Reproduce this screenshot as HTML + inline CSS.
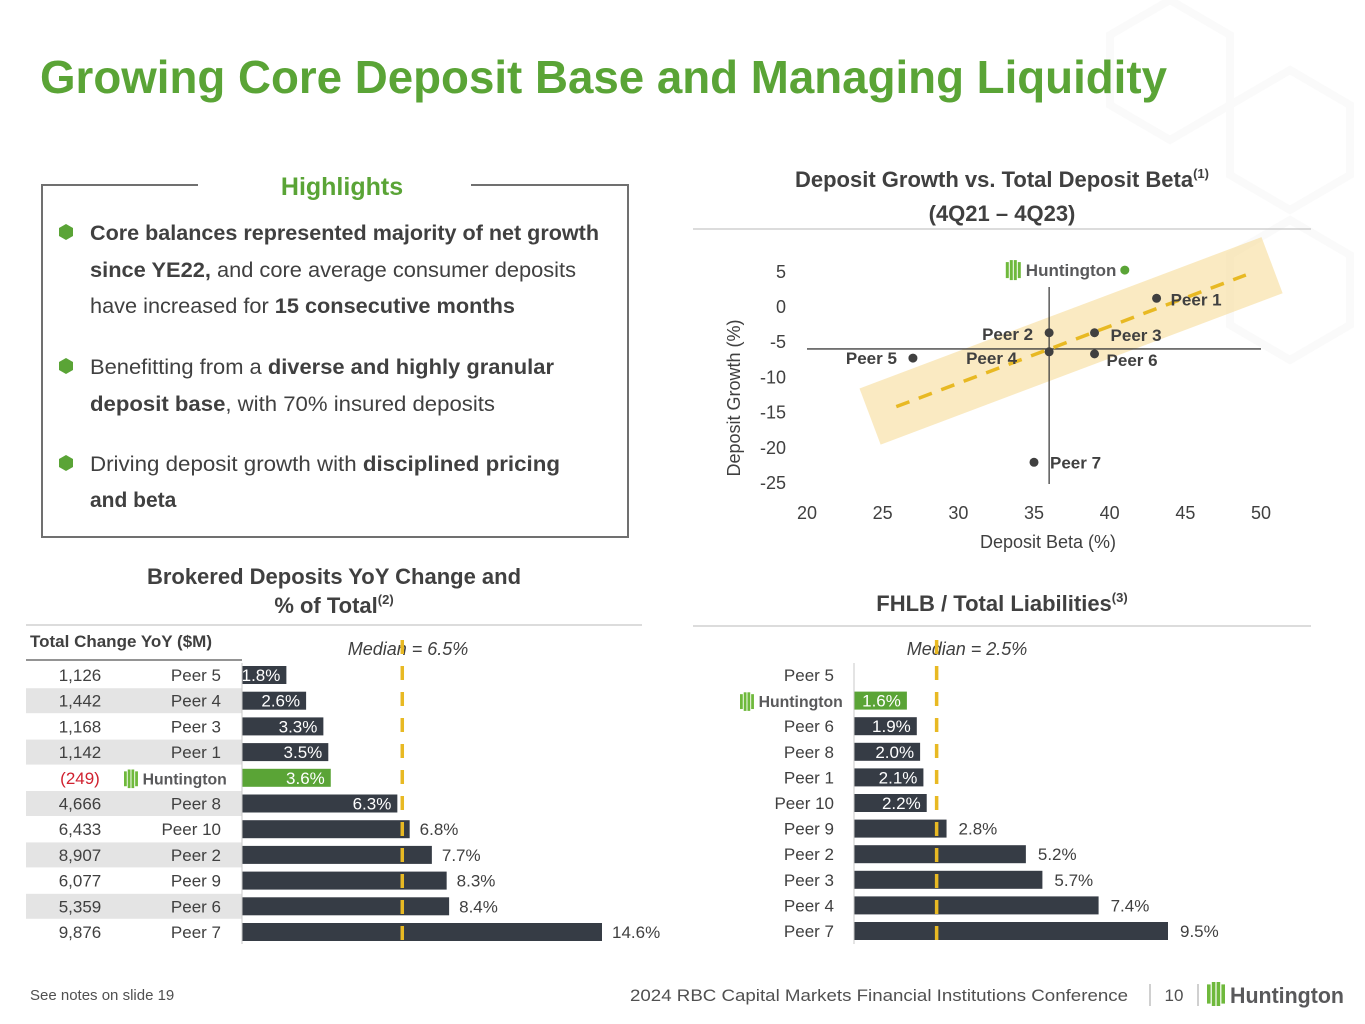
<!DOCTYPE html>
<html><head><meta charset="utf-8">
<style>
html,body{margin:0;padding:0;background:#fff;}
svg{display:block;font-family:"Liberation Sans",sans-serif;}
.b{font-weight:bold;}
</style></head>
<body>
<svg id="s" width="1365" height="1024" viewBox="0 0 1365 1024" xmlns="http://www.w3.org/2000/svg">
<defs>
<g id="hlogo">
  <rect x="0" y="-8" width="3" height="16" fill="#6fb93c"/>
  <rect x="4" y="-10" width="3" height="20" fill="#6fb93c"/>
  <rect x="8" y="-10" width="3" height="20" fill="#6fb93c"/>
  <rect x="12" y="-8" width="3" height="16" fill="#6fb93c"/>
</g>
</defs>
<rect width="1365" height="1024" fill="#fff"/>
<g opacity="0.18" fill="none" stroke="#e6e6e6" stroke-width="8">
  <polygon points="1170,0 1230,35 1230,105 1170,140 1110,105 1110,35"/>
  <polygon points="1290,70 1350,105 1350,175 1290,210 1230,175 1230,105"/>
  <polygon points="1290,220 1350,255 1350,325 1290,360 1230,325 1230,255"/>
</g>

<text x="40" y="93" font-size="46" class="b" fill="#5aa436" textLength="1127" lengthAdjust="spacingAndGlyphs">Growing Core Deposit Base and Managing Liquidity</text>

<!-- Highlights box -->
<g>
  <path d="M198,185 H42 V537 H628 V185 H471" fill="none" stroke="#707070" stroke-width="2"/>
  <text x="342" y="195" font-size="25" class="b" fill="#5aa436" text-anchor="middle">Highlights</text>
  <g font-size="21" fill="#404040">
    <polygon points="66,224 73,228 73,236 66,240 59,236 59,228" fill="#5aa436"/>
    <text x="90" y="240" textLength="509" lengthAdjust="spacingAndGlyphs"><tspan class="b">Core balances represented majority of net growth</tspan></text>
    <text x="90" y="277" textLength="486" lengthAdjust="spacingAndGlyphs"><tspan class="b">since YE22,</tspan> and core average consumer deposits</text>
    <text x="90" y="313" textLength="425" lengthAdjust="spacingAndGlyphs">have increased for <tspan class="b">15 consecutive months</tspan></text>
    <polygon points="66,358 73,362 73,370 66,374 59,370 59,362" fill="#5aa436"/>
    <text x="90" y="374" textLength="464" lengthAdjust="spacingAndGlyphs">Benefitting from a <tspan class="b">diverse and highly granular</tspan></text>
    <text x="90" y="411" textLength="405" lengthAdjust="spacingAndGlyphs"><tspan class="b">deposit base</tspan>, with 70% insured deposits</text>
    <polygon points="66,455 73,459 73,467 66,471 59,467 59,459" fill="#5aa436"/>
    <text x="90" y="471" textLength="470" lengthAdjust="spacingAndGlyphs">Driving deposit growth with <tspan class="b">disciplined pricing</tspan></text>
    <text x="90" y="507" class="b">and beta</text>
  </g>
</g>

<!-- Scatter titles -->
<text x="1002" y="187" font-size="22" class="b" fill="#404040" text-anchor="middle">Deposit Growth vs. Total Deposit Beta<tspan font-size="13" dy="-9">(1)</tspan></text>
<text x="1002" y="221" font-size="22" class="b" fill="#404040" text-anchor="middle">(4Q21 – 4Q23)</text>
<line x1="693" y1="229" x2="1311" y2="229" stroke="#d0d0d0" stroke-width="1.5"/>
<g id="scatter"></g>

<!-- Brokered -->
<text x="334" y="584" font-size="22" class="b" fill="#404040" text-anchor="middle">Brokered Deposits YoY Change and</text>
<text x="334" y="613" font-size="22" class="b" fill="#404040" text-anchor="middle">% of Total<tspan font-size="13" dy="-9">(2)</tspan></text>
<line x1="26" y1="625" x2="642" y2="625" stroke="#d0d0d0" stroke-width="1.5"/>
<text x="30" y="647" font-size="17" class="b" fill="#404040">Total Change YoY ($M)</text>
<line x1="26" y1="660" x2="242" y2="660" stroke="#707070" stroke-width="1.5"/>
<text x="408" y="655" font-size="18" font-style="italic" fill="#404040" text-anchor="middle">Median = 6.5%</text>
<g id="brokered"></g>

<!-- FHLB -->
<text x="1002" y="611" font-size="22" class="b" fill="#404040" text-anchor="middle">FHLB / Total Liabilities<tspan font-size="13" dy="-9">(3)</tspan></text>
<line x1="693" y1="626" x2="1311" y2="626" stroke="#d0d0d0" stroke-width="1.5"/>
<text x="967" y="655" font-size="18" font-style="italic" fill="#404040" text-anchor="middle">Median = 2.5%</text>
<g id="fhlb"></g>

<!-- Footer -->
<text x="30" y="1000" font-size="15" fill="#505050">See notes on slide 19</text>
<text x="1128" y="1001" font-size="17" fill="#505050" text-anchor="end" textLength="498" lengthAdjust="spacingAndGlyphs">2024 RBC Capital Markets Financial Institutions Conference</text>
<line x1="1150" y1="984" x2="1150" y2="1006" stroke="#a0a0a0"/>
<text x="1174" y="1001" font-size="17" fill="#505050" text-anchor="middle">10</text>
<line x1="1198" y1="984" x2="1198" y2="1006" stroke="#a0a0a0"/>
<g>
  <use href="#hlogo" transform="translate(1207,994) scale(1.2)"/>
  <text x="1230" y="1003" font-size="22" class="b" fill="#59595b" textLength="114" lengthAdjust="spacingAndGlyphs">Huntington</text>
</g>
</svg>

<script>
const NS="http://www.w3.org/2000/svg";
function mk(parent,tag,attrs,txt){const e=document.createElementNS(NS,tag);for(const k in attrs)e.setAttribute(k,attrs[k]);if(txt!==undefined)e.textContent=txt;parent.appendChild(e);return e;}

/* ---------- Scatter data ---------- */
const scNames=["Huntington","Peer 1","Peer 2","Peer 3","Peer 4","Peer 5","Peer 6","Peer 7"];
const scBeta=[41.0,43.1,36.0,39.0,36.0,27.0,39.0,35.0];
const scGrowth=[5.1,1.1,-3.8,-3.8,-6.5,-7.4,-6.8,-22.2];
const xTicks=[20,25,30,35,40,45,50];
const yTicks=[5,0,-5,-10,-15,-20,-25];
const crossBeta=36.0, crossGrowth=-6.1;
const trendStart=[25.9,-14.3], trendEnd=[49.0,4.4];

/* ---------- Brokered data ---------- */
const brNames=["Peer 5","Peer 4","Peer 3","Peer 1","Huntington","Peer 8","Peer 10","Peer 2","Peer 9","Peer 6","Peer 7"];
const brChange=["1,126","1,442","1,168","1,142","(249)","4,666","6,433","8,907","6,077","5,359","9,876"];
const brPct=[1.8,2.6,3.3,3.5,3.6,6.3,6.8,7.7,8.3,8.4,14.6];
const brMedian=6.5;

/* ---------- FHLB data ---------- */
const fhNames=["Peer 5","Huntington","Peer 6","Peer 8","Peer 1","Peer 10","Peer 9","Peer 2","Peer 3","Peer 4","Peer 7"];
const fhPct=[null,1.6,1.9,2.0,2.1,2.2,2.8,5.2,5.7,7.4,9.5];
const fhMedian=2.5;

function logo(g,x,y,s){
  const u=mk(g,"use",{href:"#hlogo",transform:`translate(${x},${y}) scale(${s})`});
  
  
  const t=mk(g,"text",{x:x+20*s,y:y+6*s,"font-size":17*s,"font-weight":"bold",fill:"#59595b"},"Huntington");
  
  
}

/* Scatter */
(function(){
  const g=document.getElementById("scatter");
  const X=v=>807+(v-20)*(1261-807)/30;
  const Y=v=>306-v*(482-306)/25;
  const x1=X(trendStart[0]),y1=Y(trendStart[1]),x2=X(trendEnd[0]),y2=Y(trendEnd[1]);
  const dx=x2-x1,dy=y2-y1,L=Math.hypot(dx,dy),nx=-dy/L*30,ny=dx/L*30,ex=dx/L*28,ey=dy/L*28;
  const band=mk(g,"polygon",{points:`${x1-ex+nx},${y1-ey+ny} ${x2+ex+nx},${y2+ey+ny} ${x2+ex-nx},${y2+ey-ny} ${x1-ex-nx},${y1-ey-ny}`,fill:"#f6dc9a",opacity:"0.6"});
  
  
  const hl=mk(g,"line",{x1:807,x2:1261,y1:Y(crossGrowth),y2:Y(crossGrowth),stroke:"#404040","stroke-width":1.3});
  
  
  const vl=mk(g,"line",{x1:X(crossBeta),x2:X(crossBeta),y1:287,y2:484,stroke:"#404040","stroke-width":1.3});
  
  
  const tr=mk(g,"line",{x1:x1,y1:y1,x2:x2,y2:y2,stroke:"#e8b923","stroke-width":3.5,"stroke-dasharray":"14,10"});
  
  
  xTicks.forEach(t=>{const e=mk(g,"text",{x:X(t),y:519,"font-size":18,fill:"#404040","text-anchor":"middle"},t);
    });
  yTicks.forEach(t=>{const e=mk(g,"text",{x:786,y:Y(t)+7,"font-size":18,fill:"#404040","text-anchor":"end"},t);
    });
  const xt=mk(g,"text",{x:1048,y:548,"font-size":18,fill:"#404040","text-anchor":"middle"},"Deposit Beta (%)");
  
  const yt=mk(g,"text",{x:0,y:0,"font-size":18,fill:"#404040","text-anchor":"middle",transform:"translate(740,398) rotate(-90)"},"Deposit Growth (%)");
  
  const lab={"Peer 1":[14,7,"start"],"Peer 2":[-16,7,"end"],"Peer 3":[16,8,"start"],"Peer 4":[-32,12,"end"],"Peer 5":[-16,6,"end"],"Peer 6":[12,12,"start"],"Peer 7":[16,6,"start"]};
  scNames.forEach((n,i)=>{
    const cx=X(scBeta[i]),cy=Y(scGrowth[i]);
    const c=mk(g,"circle",{cx:cx,cy:cy,r:4.5,fill:n==="Huntington"?"#5aa436":"#404040"});
    
    
    if(n==="Huntington"){logo(g,cx-119,cy,1.0);}
    else{const L=lab[n];const t=mk(g,"text",{x:cx+L[0],y:cy+L[1],"font-size":17,"font-weight":"bold",fill:"#404040","text-anchor":L[2]},n);
      }
  });
})();

/* Brokered bars */
(function(){
  const g=document.getElementById("brokered");
  const x0=242,sc=(602-242)/14.6,rowY=i=>675+i*25.7,bh=18;
  brNames.forEach((n,i)=>{
    const cy=rowY(i);
    if(i%2===1){const r=mk(g,"rect",{x:26,y:cy-12.5,width:216,height:25,fill:"#e4e4e4"});
      }
    const ct=mk(g,"text",{x:80,y:cy+6,"font-size":17,fill:n==="Huntington"?"#d0212f":"#404040","text-anchor":"middle"},brChange[i]);
    
    if(n==="Huntington"){logo(g,124,cy+1,0.93);}
    else{const t=mk(g,"text",{x:221,y:cy+6,"font-size":17,fill:"#404040","text-anchor":"end"},n);
      }
    const w=brPct[i]*sc;
    const b=mk(g,"rect",{x:x0,y:cy-bh/2,width:w,height:bh,fill:n==="Huntington"?"#5aa436":"#363c45"});
    
    const inside=brPct[i]<brMedian;
    const v=mk(g,"text",{x:inside?x0+w-6:x0+w+10,y:cy+6,"font-size":17,fill:inside?"#fff":"#404040","text-anchor":inside?"end":"start"},brPct[i].toFixed(1)+"%");
    
  });
  const ax=mk(g,"line",{x1:x0,x2:x0,y1:663,y2:944,stroke:"#c8c8c8"});
  
  const m=mk(g,"line",{x1:x0+brMedian*sc,x2:x0+brMedian*sc,y1:640,y2:944,stroke:"#e8b923","stroke-width":3.5,"stroke-dasharray":"14,12"});
  
})();

/* FHLB bars */
(function(){
  const g=document.getElementById("fhlb");
  const x0=854,sc=(1168-854)/9.5,rowY=i=>675+i*25.6,bh=18;
  fhNames.forEach((n,i)=>{
    const cy=rowY(i);
    if(n==="Huntington"){logo(g,740,cy+1,0.93);}
    else{const t=mk(g,"text",{x:834,y:cy+6,"font-size":17,fill:"#404040","text-anchor":"end"},n);
      }
    if(fhPct[i]===null)return;
    const w=fhPct[i]*sc;
    const b=mk(g,"rect",{x:x0,y:cy-bh/2,width:w,height:bh,fill:n==="Huntington"?"#5aa436":"#363c45"});
    
    const inside=fhPct[i]<fhMedian;
    const v=mk(g,"text",{x:inside?x0+w-6:x0+w+12,y:cy+6,"font-size":17,fill:inside?"#fff":"#404040","text-anchor":inside?"end":"start"},fhPct[i].toFixed(1)+"%");
    
  });
  const ax=mk(g,"line",{x1:x0,x2:x0,y1:663,y2:944,stroke:"#c8c8c8"});
  
  const m=mk(g,"line",{x1:x0+fhMedian*sc,x2:x0+fhMedian*sc,y1:640,y2:948,stroke:"#e8b923","stroke-width":3.5,"stroke-dasharray":"14,12"});
  
})();
</script>
</body></html>
